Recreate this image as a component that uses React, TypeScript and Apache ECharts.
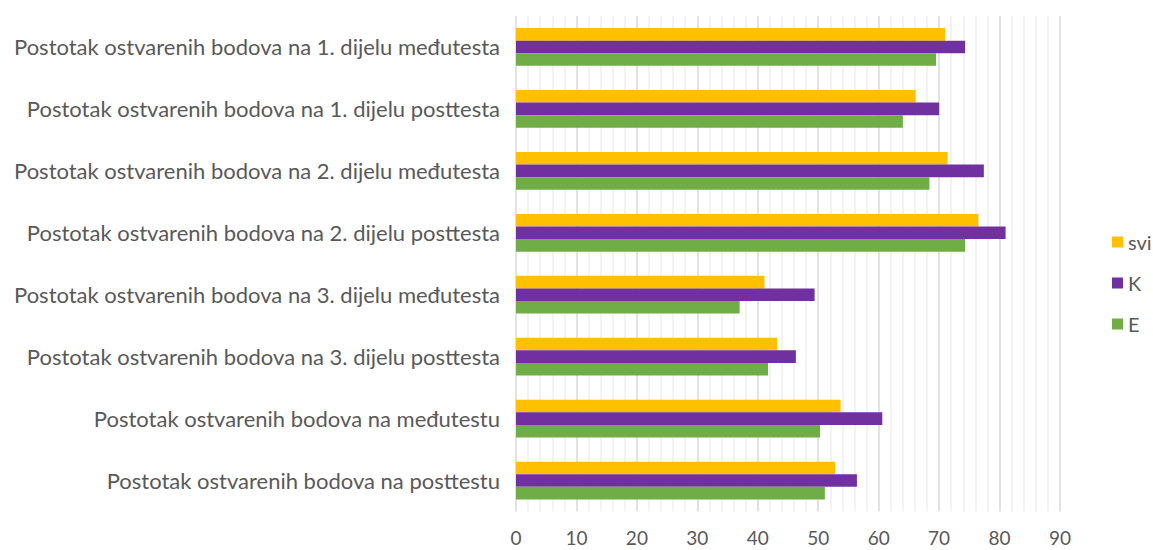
import React, { useEffect, useRef } from "react";
import * as echarts from "echarts";

const categories = [
  "Postotak ostvarenih bodova na 1. dijelu međutesta",
  "Postotak ostvarenih bodova na 1. dijelu posttesta",
  "Postotak ostvarenih bodova na 2. dijelu međutesta",
  "Postotak ostvarenih bodova na 2. dijelu posttesta",
  "Postotak ostvarenih bodova na 3. dijelu međutesta",
  "Postotak ostvarenih bodova na 3. dijelu posttesta",
  "Postotak ostvarenih bodova na međutestu",
  "Postotak ostvarenih bodova na posttestu",
];

const sviValues = [71.0, 66.1, 71.4, 76.5, 41.1, 43.2, 53.7, 52.8];
const kValues = [74.3, 70.0, 77.4, 81.0, 49.4, 46.3, 60.6, 56.4];
const eValues = [69.5, 64.0, 68.4, 74.3, 37.0, 41.7, 50.3, 51.1];

const seriesNames = ["svi", "K", "E"];
const seriesColors = ["#FFC000", "#7030A0", "#70AD47"];

export default function App() {
  const ref = useRef<HTMLDivElement>(null);
  useEffect(() => {
    if (!ref.current) return;
    const chart = echarts.init(ref.current, undefined, { renderer: "svg" });
    const font = "Lato, 'Liberation Sans', sans-serif";
    const data = [sviValues, kValues, eValues];
    chart.setOption({
      animation: false,
      textStyle: { fontFamily: font },
      grid: { left: 516, right: 93, top: 16, bottom: 38.5, containLabel: false },
      legend: {
        orient: "vertical",
        left: 1107,
        top: 227,
        itemGap: 21,
        itemWidth: 11,
        itemHeight: 11,
        icon: "rect",
        data: seriesNames,
        textStyle: { color: "#595959", fontSize: 20, fontFamily: font },
      },
      xAxis: {
        type: "value",
        min: 0,
        max: 90,
        interval: 10,
        axisLine: { show: false },
        axisTick: { show: false },
        axisLabel: { color: "#595959", fontSize: 19, margin: 16, fontFamily: font },
        splitLine: { show: true, lineStyle: { color: "#D9D9D9", width: 1.5 } },
        minorTick: { show: false, splitNumber: 5 },
        minorSplitLine: { show: true, lineStyle: { color: "#EFEFEF", width: 1.5 } },
      },
      yAxis: {
        type: "category",
        data: categories,
        inverse: true,
        axisLine: { show: false },
        axisTick: { show: false },
        axisLabel: { color: "#595959", fontSize: 22, margin: 16, fontFamily: font },
        splitLine: { show: false },
      },
      series: seriesNames.map((name, i) => ({
        name,
        type: "bar",
        data: data[i],
        barGap: "0%",
        barCategoryGap: "39%",
        itemStyle: { color: seriesColors[i] },
      })),
    });
    return () => chart.dispose();
  }, []);
  return (
    <div
      ref={ref}
      style={{ position: "fixed", left: 0, top: 0, width: 1153, height: 550, background: "#fff" }}
    />
  );
}
